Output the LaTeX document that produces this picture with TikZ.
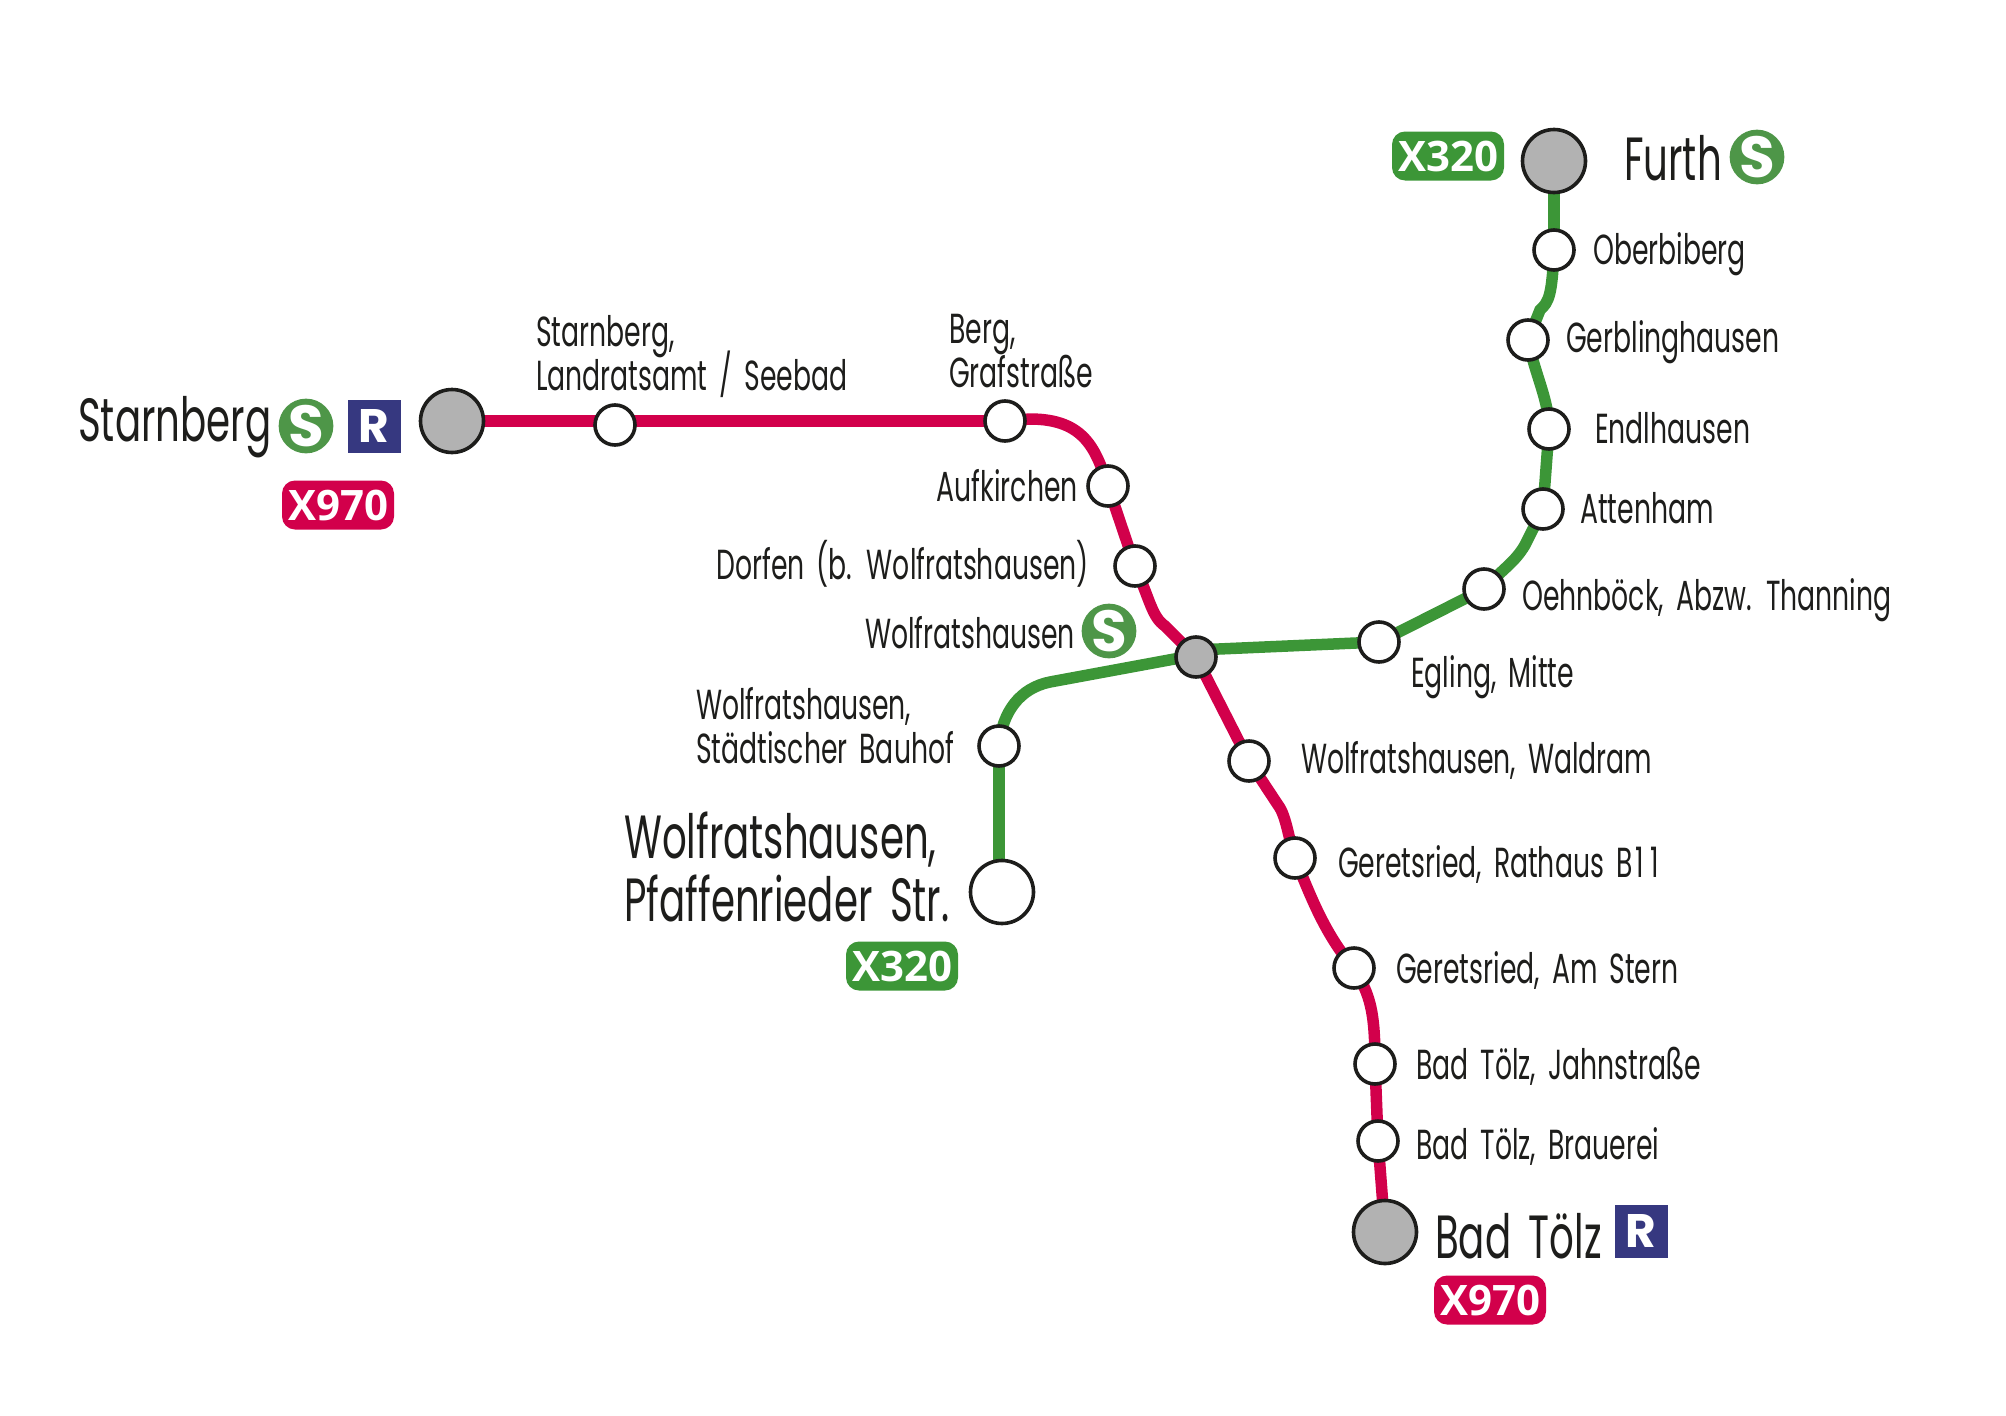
\documentclass[tikz,border=0pt]{standalone}
\usepackage{fontspec}
\setmainfont{Poppins}[FakeStretch=0.635,WordSpace=1.7]
\newfontfamily\badgefont{Open Sans}[UprightFont=* Bold]
\newfontfamily\logofont{Poppins}[UprightFont=* Bold]
\usetikzlibrary{backgrounds}

\definecolor{linered}{HTML}{D2004B}
\definecolor{linegreen}{HTML}{3C9637}
\definecolor{logogreen}{HTML}{4E9648}
\definecolor{logoblue}{HTML}{363880}
\definecolor{stopgrey}{HTML}{B2B2B2}
\definecolor{inkblack}{HTML}{1D1D1B}
\newcommand\tightlines{\setlength{\lineskiplimit}{-100pt}}

\tikzset{
    stop/.style={circle,draw=inkblack,fill=white,line width=3.6pt,minimum size=40pt,inner sep=0pt},
    hubstop/.style={stop,fill=stopgrey},
    endstop/.style={stop,fill=stopgrey,minimum size=63pt},
    whiteend/.style={endstop,fill=white},
    lbl/.style={anchor=base west,inner sep=0pt,text=inkblack,font=\fontsize{42}{44}\selectfont\tightlines,align=left},
    lblr/.style={lbl,anchor=base east,align=right},
    biglbl/.style={lbl,font=\fontsize{61}{63}\selectfont\tightlines},
    redline/.style={draw=linered,line width=11.5pt},
    greenline/.style={draw=linegreen,line width=11.5pt},
    badge/.style={rounded corners=13pt,minimum width=112pt,minimum height=49pt,inner sep=0pt,text=white,font=\fontsize{42}{42}\badgefont},
    slogo/.style={circle,fill=logogreen,minimum size=53pt,inner sep=0pt,text=white,font=\fontsize{58}{58}\logofont},
    rlogo/.style={fill=logoblue,minimum size=53pt,inner sep=0pt,text=white,font=\fontsize{47}{47}\logofont},
}

\begin{document}
\begin{tikzpicture}[x=1pt,y=-1pt]
    \useasboundingbox (0,0) rectangle (2006,1416);

    % red line
    \node[endstop] (starnberg) at (452,421) {};
    \node[stop] (landratsamt) at (615,425) {};
    \node[stop] (berg) at (1005,421) {};
    \node[stop] (aufkirchen) at (1108,486) {};
    \node[stop] (dorfen) at (1135,566) {};
    \node[hubstop] (wolfratshausen) at (1196,657) {};
    \node[stop] (waldram) at (1249,761) {};
    \node[stop] (rathaus) at (1295,858) {};
    \node[stop] (amstern) at (1354,968) {};
    \node[stop] (jahnstrasse) at (1375,1064) {};
    \node[stop] (brauerei) at (1378,1141) {};
    \node[endstop] (badtoelz) at (1385,1232) {};

    % green line
    \node[endstop] (furth) at (1554,161) {};
    \node[stop] (oberbiberg) at (1554,250) {};
    \node[stop] (gerbling) at (1528,340) {};
    \node[stop] (endlhausen) at (1549,429) {};
    \node[stop] (attenham) at (1543,509) {};
    \node[stop] (oehnboeck) at (1484,589) {};
    \node[stop] (egling) at (1379,642) {};
    \node[stop] (bauhof) at (999,746) {};
    \node[whiteend] (pfaffenried) at (1002,892) {};
    \coordinate (hubleft) at (1196,655);
    \coordinate (hubright) at (1196,650);

    \begin{pgfonlayer}{background}
        \draw[redline] (starnberg.center) -- (landratsamt.center |- starnberg.center) -- (berg.center);
        \draw[redline] (berg.center) -- (1030,419) .. controls (1085,419) and (1096,450) .. (aufkirchen.center);
        \draw[redline] (aufkirchen.center) -- (dorfen.center);
        \draw[redline] (dorfen.center) .. controls (1150,600) and (1152,617) .. (1165,626) -- (wolfratshausen.center);
        \draw[redline] (wolfratshausen.center) -- (waldram.center);
        \draw[redline] (waldram.center) -- (1280,808) .. controls (1287,820) and (1290,845) .. (rathaus.center);
        \draw[redline] (rathaus.center) .. controls (1310,895) and (1325,935) .. (amstern.center);
        \draw[redline] (amstern.center) .. controls (1370,995) and (1375,1010) .. (jahnstrasse.center);
        \draw[redline] (jahnstrasse.center) -- (brauerei.center);
        \draw[redline] (brauerei.center) -- (badtoelz.center);

        \draw[greenline] (furth.center) -- (oberbiberg.center);
        \draw[greenline] (oberbiberg.center) .. controls (1552,295) and (1549,302) .. (1540,310) -- (gerbling.center);
        \draw[greenline] (gerbling.center) .. controls (1535,375) and (1549,400) .. (endlhausen.center);
        \draw[greenline] (endlhausen.center) -- (attenham.center);
        \draw[greenline] (attenham.center) -- (1525,545) .. controls (1515,562) and (1505,567) .. (oehnboeck.center);
        \draw[greenline] (oehnboeck.center) -- (egling.center);
        \draw[greenline] (egling.center) -- (hubright);
        \draw[greenline] (hubleft) -- (1050,682) .. controls (1020,688) and (1002,712) .. (bauhof.center);
        \draw[greenline] (bauhof.center) -- (bauhof.center |- pfaffenried.center);
    \end{pgfonlayer}

    % big labels
    \node[biglbl] (lstarnberg) at (78,441) {Starnberg};
    \node[biglbl] (lfurth) at (1624,180) {Furth};
    \node[biglbl] (lbadtoelz) at (1435,1258) {Bad Tölz};
    \node[biglbl] (lpfaffenried) at (624,921) {Wolfratshausen,\\Pfaffenrieder Str.};

    % small labels
    \node[lbl] (llandratsamt) at (536,390) {Starnberg,\\Landratsamt / Seebad};
    \node[lbl] (lberg) at (949,387) {Berg,\\Grafstraße};
    \node[lblr] (laufkirchen) at (1078,501) {Aufkirchen};
    \node[lblr] (ldorfen) at (1089,579) {Dorfen (b. Wolfratshausen)};
    \node[lblr] (lwolfratshausen) at (1075,648) {Wolfratshausen};
    \node[lbl] (lbauhof) at (696,763) {Wolfratshausen,\\Städtischer Bauhof};
    \node[lbl] (loberbiberg) at (1593,264) {Oberbiberg};
    \node[lbl] (lgerbling) at (1566,352) {Gerblinghausen};
    \node[lbl] (lendlhausen) at (1595,443) {Endlhausen};
    \node[lbl] (lattenham) at (1580,523) {Attenham};
    \node[lbl] (loehnboeck) at (1522,610) {Oehnböck, Abzw. Thanning};
    \node[lbl] (legling) at (1411,687) {Egling, Mitte};
    \node[lbl] (lwaldram) at (1301,773) {Wolfratshausen, Waldram};
    \node[lbl] (lrathaus) at (1338,877) {Geretsried, Rathaus B\kern3pt1\kern6pt1};
    \node[lbl] (lamstern) at (1396,983) {Geretsried, Am Stern};
    \node[lbl] (ljahnstrasse) at (1416,1079) {Bad Tölz, Jahnstraße};
    \node[lbl] (lbrauerei) at (1416,1159) {Bad Tölz, Brauerei};

    % logos
    \node[slogo] (sstarnberg) at (306,426) {S};
    \node[rlogo] (rstarnberg) at (374,426) {R};
    \node[slogo] (swolfratshausen) at (1109,631) {S};
    \node[slogo] (sfurth) at (1757,157) {S};
    \node[rlogo] (rbadtoelz) at (1641,1231) {R};

    % badges
    \node[badge,fill=linered] (xstarnberg) at (338,505) {X970};
    \node[badge,fill=linered] (xbadtoelz) at (1490,1300) {X970};
    \node[badge,fill=linegreen] (xfurth) at (1448,156) {X320};
    \node[badge,fill=linegreen] (xpfaffenried) at (902,966) {X320};
\end{tikzpicture}
\end{document}
